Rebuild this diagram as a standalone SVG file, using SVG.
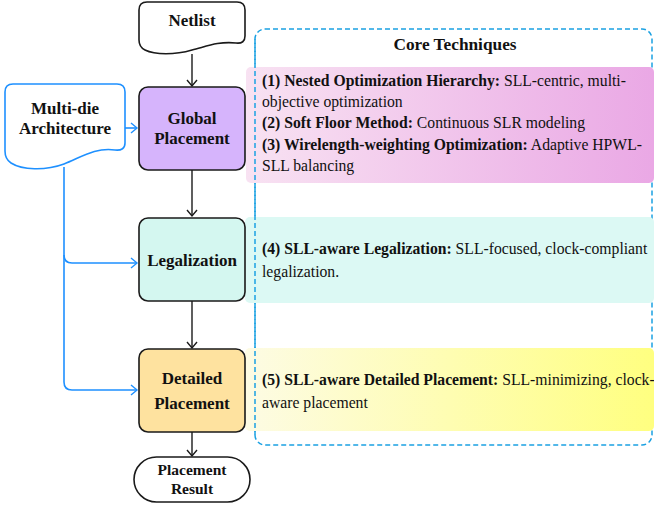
<svg xmlns="http://www.w3.org/2000/svg" width="654" height="506" viewBox="0 0 654 506">
<defs>
<linearGradient id="gPink" x1="0" y1="0" x2="1" y2="0">
<stop offset="0" stop-color="#f8e2f2"/>
<stop offset="1" stop-color="#eaa8e5"/>
</linearGradient>
<linearGradient id="gYel" x1="0" y1="0" x2="1" y2="0">
<stop offset="0" stop-color="#fdfbe4"/>
<stop offset="1" stop-color="#ffff80"/>
</linearGradient>
<marker id="ak" markerWidth="12" markerHeight="12" refX="10" refY="6" orient="auto" markerUnits="userSpaceOnUse">
<path d="M4,1 L10,6 L4,11" fill="none" stroke="#1a1a1a" stroke-width="1.4"/>
</marker>
<marker id="ab" markerWidth="12" markerHeight="12" refX="10" refY="6" orient="auto" markerUnits="userSpaceOnUse">
<path d="M4,1 L10,6 L4,11" fill="none" stroke="#1e90ff" stroke-width="1.4"/>
</marker>
</defs>
<style>
text{font-family:"Liberation Serif","Times New Roman",serif;fill:#111}
.lbl{font-size:17px;font-weight:bold;text-anchor:middle}
.body{font-size:15.7px}
.b{font-weight:bold}
.node{stroke:#1a1a1a;stroke-width:1.6}
.blue{fill:none;stroke:#1e90ff;stroke-width:1.6}
.blk{fill:none;stroke:#1a1a1a;stroke-width:1.4}
.dash{fill:none;stroke:#1ba1e2;stroke-width:1.5;stroke-dasharray:5 3}
</style>

<g id="core-techniques">
<rect class="dash" x="255" y="29" width="397" height="416" rx="10"/>
<rect x="246" y="67" width="408" height="116" rx="5" fill="url(#gPink)"/>
<rect x="245" y="217" width="409" height="86" rx="5" fill="#dcf9f4"/>
<rect x="245" y="348" width="409" height="83" rx="5" fill="url(#gYel)"/>
<path class="dash" d="M255,39 V435"/>
<text x="455" y="50" style="font-size:17.3px;font-weight:bold;text-anchor:middle">Core Techniques</text>
<text class="body" x="262" y="86"><tspan class="b">(1) Nested Optimization Hierarchy:</tspan> SLL-centric, multi-</text>
<text class="body" x="262" y="107">objective optimization</text>
<text class="body" x="262" y="128"><tspan class="b">(2) Soft Floor Method:</tspan> Continuous SLR modeling</text>
<text class="body" x="262" y="150"><tspan class="b">(3) Wirelength-weighting Optimization:</tspan> Adaptive HPWL-</text>
<text class="body" x="262" y="171">SLL balancing</text>
<text class="body" x="262" y="254"><tspan class="b">(4) SLL-aware Legalization:</tspan> SLL-focused, clock-compliant</text>
<text class="body" x="262" y="277">legalization.</text>
<text class="body" x="262" y="385"><tspan class="b">(5) SLL-aware Detailed Placement:</tspan> SLL-minimizing, clock-</text>
<text class="body" x="262" y="408">aware placement</text>
</g>

<g id="connectors">
<path class="blk" d="M192,54 V86" marker-end="url(#ak)"/>
<path class="blk" d="M192,170 V216" marker-end="url(#ak)"/>
<path class="blk" d="M192,301 V348" marker-end="url(#ak)"/>
<path class="blk" d="M192,432 V456" marker-end="url(#ak)"/>
<path class="blue" d="M125,128 H137" marker-end="url(#ab)"/>
<path class="blue" d="M64,167 V382 Q64,390 72,390 H137" marker-end="url(#ab)"/>
<path class="blue" d="M64,255 Q64,263 72,263 H137" marker-end="url(#ab)"/>
</g>

<g id="netlist">
<path class="node" fill="#fff" d="M147,2 H237 Q245,2 245,10 V36 Q245,44 236,43 C218,41 205,47 192,50 C175,55 155,55 145,50 Q139,47 139,40 V10 Q139,2 147,2 Z"/>
<text class="lbl" x="192" y="26">Netlist</text>
</g>

<g id="multi-die">
<path fill="#fff" stroke="#1e90ff" stroke-width="1.6" d="M13,84 H117 Q125,84 125,92 V143 Q125,151 115,150 C95,147 80,158 64,164 C45,171 22,170 11,163 Q5,159 5,151 V92 Q5,84 13,84 Z"/>
<text class="lbl" x="65" y="114">Multi-die</text>
<text class="lbl" x="65" y="134">Architecture</text>
</g>

<g id="global-placement">
<rect class="node" x="139" y="87" width="106" height="83" rx="9" fill="#d6b4fc"/>
<text class="lbl" x="192" y="124">Global</text>
<text class="lbl" x="192" y="144">Placement</text>
</g>

<g id="legalization">
<rect class="node" x="139" y="218" width="106" height="83" rx="9" fill="#d4f7f0"/>
<text class="lbl" x="192" y="266">Legalization</text>
</g>

<g id="detailed-placement">
<rect class="node" x="139" y="349" width="106" height="83" rx="9" fill="#fee29f"/>
<text class="lbl" x="192" y="384">Detailed</text>
<text class="lbl" x="192" y="409">Placement</text>
</g>

<g id="placement-result">
<rect class="node" x="134" y="457" width="116" height="45" rx="22.5" fill="#fff"/>
<text class="lbl" x="192" y="475" style="font-size:15.5px">Placement</text>
<text class="lbl" x="192" y="494" style="font-size:15.5px">Result</text>
</g>
</svg>
